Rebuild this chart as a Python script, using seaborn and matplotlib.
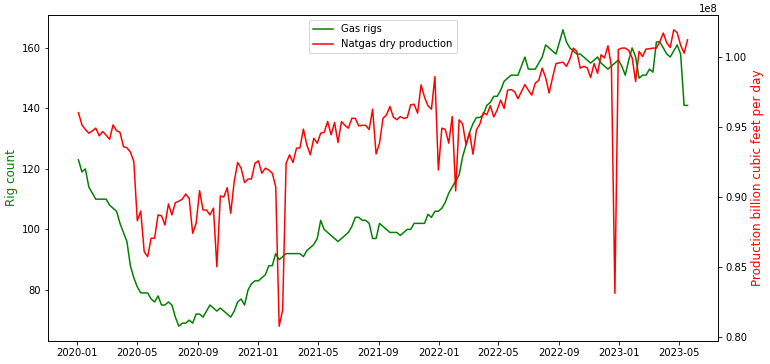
import numpy as np
import pandas as pd
import matplotlib
matplotlib.use("Agg")
import matplotlib.pyplot as plt
import matplotlib.dates as mdates
import seaborn as sns

start_date = "2020-01-03"

gas_rigs = [
    123, 119, 120, 114, 112, 110, 110, 110, 110, 108,
    107, 106, 102, 99, 96, 88, 84, 81, 79, 79,
    79, 77, 76, 78, 75, 75, 76, 75, 71, 68,
    69, 69, 70, 69, 72, 72, 71, 73, 75, 74,
    73, 74, 73, 72, 71, 73, 76, 77, 75, 80,
    82, 83, 83, 84, 85, 88, 88, 92, 90, 91,
    92, 92, 92, 92, 92, 91, 93, 94, 95, 97,
    103, 100, 99, 98, 97, 96, 97, 98, 99, 101,
    104, 104, 103, 103, 102, 97, 97, 102, 101, 100,
    99, 99, 99, 98, 99, 100, 100, 102, 102, 102,
    102, 105, 104, 106, 106, 107, 109, 112, 114, 116,
    118, 124, 128, 132, 135, 137, 137, 138, 141, 142,
    144, 144, 146, 149, 150, 151, 151, 151, 154, 157,
    153, 153, 153, 155, 157, 161, 160, 159, 158, 162,
    166, 162, 160, 159, 158, 158, 157, 156, 155, 156,
    157, 155, 154, 153, 154, 155, 156, 154, 151, 156,
    160, 157, 150, 151, 151, 153, 152, 162, 162, 160,
    158, 157, 159, 161, 158, 141, 141,
]

# production in millions (axis shows values x 1e8)
production_millions = [
    96.0, 95.13, 94.8, 94.54, 94.7, 94.9, 94.35, 94.66, 94.4, 94.11,
    95.13, 94.72, 94.6, 93.59, 93.5, 93.2, 92.52, 88.31, 89.0, 86.1,
    85.75, 87.06, 87.06, 88.72, 88.66, 88.0, 89.5, 88.72, 89.59, 89.7,
    89.84, 90.21, 89.9, 87.41, 88.12, 90.45, 89.07, 89.07, 88.72, 89.2,
    85.03, 90.07, 90.0, 90.66, 88.84, 91.09, 92.45, 92.05, 91.02, 91.28,
    91.28, 92.4, 92.57, 91.69, 92.05, 91.92, 91.69, 90.73, 80.8, 81.95,
    92.4, 93.0, 92.45, 93.47, 93.5, 94.83, 93.7, 93.0, 94.18, 93.83,
    94.54, 94.6, 95.37, 94.42, 95.3, 93.87, 95.37, 95.1, 94.9, 95.6,
    95.6, 95.06, 95.1, 95.1, 94.8, 96.25, 93.06, 93.83, 95.6, 95.84,
    96.44, 95.68, 95.5, 95.72, 95.6, 95.65, 96.56, 96.6, 95.97, 97.98,
    97.1, 96.49, 96.25, 98.57, 91.92, 94.9, 94.8, 93.83, 95.72, 90.43,
    95.49, 95.2, 93.71, 94.6, 93.04, 94.78, 95.2,
    96.0, 95.85, 96.5, 95.7, 96.2, 96.9, 96.3, 97.6, 97.65, 97.5,
    97.0, 97.5, 98.0, 97.6, 97.25, 98.1, 98.3, 99.17, 98.5, 97.4,
    98.5, 99.5, 99.55, 99.6, 99.3, 99.8, 100.6, 100.36, 99.17, 99.3,
    99.2, 98.5, 99.5, 98.8, 100.12, 99.9, 100.76, 99.3, 83.14, 100.5,
    100.6, 100.6, 100.43, 99.9, 98.22, 100.36, 100.0, 100.53, 100.55, 100.6,
    100.6, 101.07, 101.67, 100.96, 100.65, 101.9, 101.7, 100.8, 100.24, 101.19,
]

dates = pd.date_range(start_date, periods=len(gas_rigs), freq="7D")
production = np.array(production_millions) * 1e6

W, H, DPI = 770, 364, 72
fig, ax = plt.subplots(figsize=(W / DPI, H / DPI), dpi=DPI)
fig.subplots_adjust(left=48 / W, right=718 / W, top=1 - 15 / H, bottom=1 - 341 / H)

sns.lineplot(x=dates, y=gas_rigs, ax=ax, color="green", label="Gas rigs")
ax2 = ax.twinx()
sns.lineplot(x=dates, y=production, ax=ax2, color="red", label="Natgas dry production")

ax.set_ylabel("Rig count", color="green", fontsize=12)
ax2.set_ylabel("Production billion cubic feet per day", color="red", fontsize=12)
ax.set_xlabel("")

ax.xaxis.set_major_locator(mdates.MonthLocator(bymonth=[1, 5, 9]))
ax.xaxis.set_major_formatter(mdates.DateFormatter("%Y-%m"))

h1, l1 = ax.get_legend_handles_labels()
h2, l2 = ax2.get_legend_handles_labels()
ax.get_legend().remove()
ax2.get_legend().remove()
ax2.legend(h1 + h2, l1 + l2, loc="upper center")

fig.savefig("out.png", dpi=DPI)
